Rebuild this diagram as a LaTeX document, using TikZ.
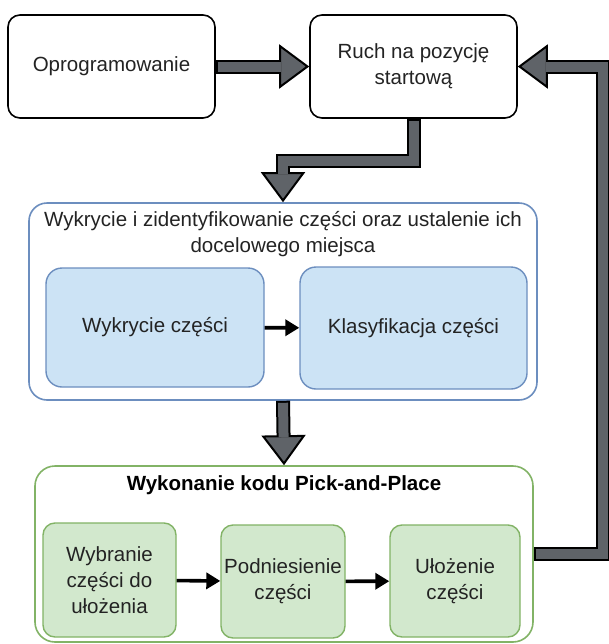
\documentclass[tikz,border=0pt]{standalone}
\usepackage{fontspec}
\setmainfont{Liberation Sans}
\usetikzlibrary{arrows.meta}
\definecolor{arrowgrey}{RGB}{95,99,104}
\definecolor{blueline}{RGB}{108,142,191}
\definecolor{bluefill}{RGB}{204,227,245}
\definecolor{greenline}{RGB}{130,179,102}
\definecolor{greenfill}{RGB}{210,232,205}
\definecolor{textgrey}{RGB}{35,35,35}
\newcommand{\fatarrow}[1]{\draw[fatout] #1; \draw[fatin] #1;}
\begin{document}
\begin{tikzpicture}[font=\fontsize{14.6}{18.5}\selectfont, text=textgrey, line join=miter,
  plainbox/.style={draw=black, line width=0.04cm, rounded corners=0.3cm, fill=white, align=center, inner sep=1pt},
  bluegroup/.style={draw=blueline, line width=0.04cm, rounded corners=0.45cm, fill=white},
  greengroup/.style={draw=greenline, line width=0.04cm, rounded corners=0.5cm, fill=white},
  bluebox/.style={draw=blueline, fill=bluefill, line width=0.035cm, rounded corners=0.4cm, align=center, inner sep=1pt},
  greenbox/.style={draw=greenline, fill=greenfill, line width=0.035cm, rounded corners=0.3cm, align=center, inner sep=1pt},
  fatout/.style={draw=black, line width=0.35cm, -{Triangle[length=0.75cm, width=1.1cm, line width=0.05cm, fill=arrowgrey]}},
  fatin/.style={draw=arrowgrey, line width=0.25cm, shorten <=0.05cm, shorten >=0.7cm},
  smallarrow/.style={draw=black, line width=0.09cm, -{Triangle[length=0.35cm, width=0.4cm]}}]
\useasboundingbox (0,0) rectangle (15.2,-16.1);
\fill[white] (0,0) rectangle (15.2,-16.1);

\node[plainbox, minimum width=5.175cm, minimum height=2.575cm] (oprog) at (2.7875,-1.6625) {Oprogramowanie};
\node[plainbox, minimum width=5.175cm, minimum height=2.575cm] (ruch) at (10.3375,-1.6625) {Ruch na pozycję\\startową};

\node[bluegroup, minimum width=12.7cm, minimum height=4.925cm] (det) at (7.075,-7.5375) {};
\node[align=center] (dettitle) at (7.075,-5.8625) {Wykrycie i zidentyfikowanie części oraz ustalenie ich\\docelowego miejsca};
\node[bluebox, minimum width=5.45cm, minimum height=2.975cm] (detect) at (3.875,-8.1875) {Wykrycie części};
\node[bluebox, minimum width=5.675cm, minimum height=3.05cm] (classify) at (10.3375,-8.2) {Klasyfikacja części};

\node[greengroup, minimum width=12.45cm, minimum height=4.4cm] (pnp) at (7.1,-13.85) {};
\node[font=\fontsize{14.6}{18.5}\selectfont\bfseries, text=black] (pnptitle) at (7.1,-12.125) {Wykonanie kodu Pick-and-Place};
\node[greenbox, minimum width=3.325cm, minimum height=2.85cm] (pick) at (2.7375,-14.5) {Wybranie\\części do\\ułożenia};
\node[greenbox, minimum width=3.1cm, minimum height=2.825cm] (lift) at (7.075,-14.5375) {Podniesienie\\części};
\node[greenbox, minimum width=3.25cm, minimum height=2.8cm] (place) at (11.375,-14.525) {Ułożenie\\części};

\draw[smallarrow] (detect) -- (classify);
\draw[smallarrow] (pick) -- (lift);
\draw[smallarrow] (lift) -- (place);

\fatarrow{(oprog) -- (ruch)}
\fatarrow{(ruch.south) -- ++(0,-1.05) -| (det.north)}
\fatarrow{(det.south) -- (pnp.north)}
\fatarrow{(pnp.east) -- ++(1.725,0) |- (ruch.east)}
\end{tikzpicture}
\end{document}
